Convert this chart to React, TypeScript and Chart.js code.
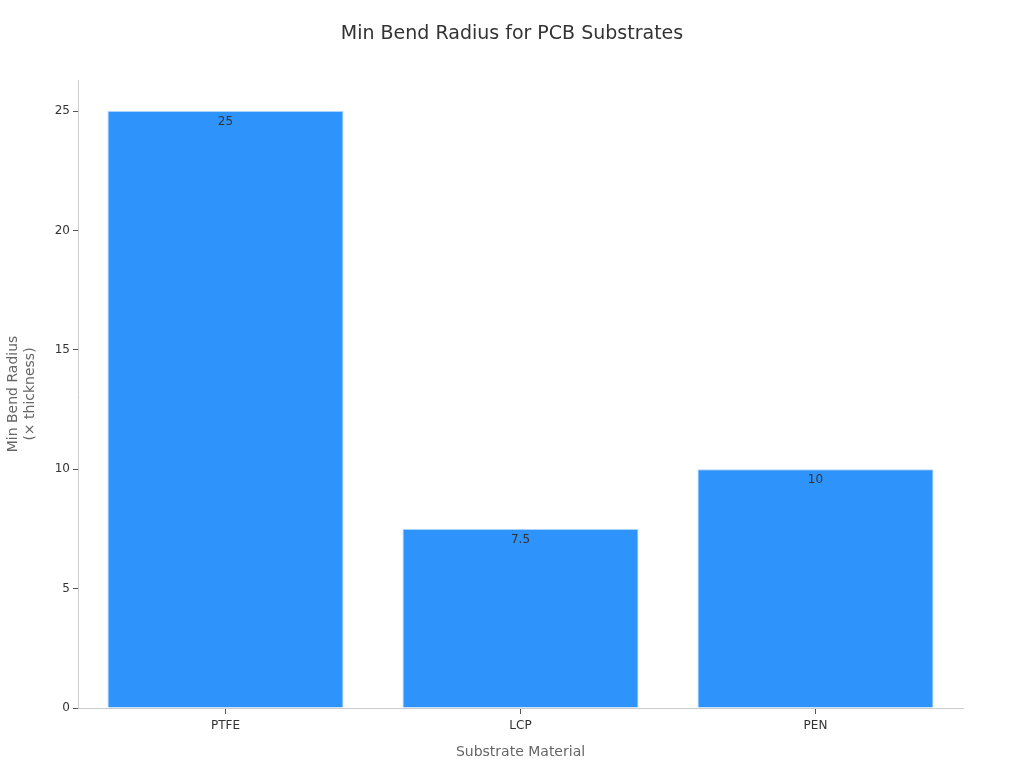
import { useEffect, useRef } from 'react';
import { Chart } from 'chart.js/auto';

const CATEGORIES = ['PTFE', 'LCP', 'PEN'];
const BEND_RADIUS = [25, 7.5, 10];
const Y_TICKS = [0, 5, 10, 15, 20, 25];
const TITLE = 'Min Bend Radius for PCB Substrates';

const FONT = "'DejaVu Sans', sans-serif";

// title centred on the whole canvas, plus value labels just inside each bar top
const overlay = {
  id: 'overlay',
  afterDatasetsDraw(chart: Chart) {
    const { ctx } = chart;
    const meta = chart.getDatasetMeta(0);
    ctx.save();
    ctx.textAlign = 'center';
    ctx.textBaseline = 'middle';
    ctx.fillStyle = '#333';
    ctx.font = `19px ${FONT}`;
    ctx.fillText(TITLE, chart.width / 2, 34);
    ctx.font = `12px ${FONT}`;
    meta.data.forEach((bar: any, i: number) => {
      ctx.fillText(String(BEND_RADIUS[i]), bar.x, bar.y + 11);
    });
    ctx.restore();
  },
};

export default function App() {
  const canvasRef = useRef<HTMLCanvasElement>(null);
  const chartRef = useRef<Chart | null>(null);

  useEffect(() => {
    document.body.style.margin = '0';
    const canvas = canvasRef.current;
    if (!canvas) return;

    chartRef.current?.destroy();
    chartRef.current = new Chart(canvas, {
      type: 'bar',
      data: {
        labels: CATEGORIES,
        datasets: [
          {
            data: BEND_RADIUS,
            backgroundColor: '#2E93FA',
            borderColor: '#A9D3FF',
            borderWidth: 1,
            categoryPercentage: 0.8,
            barPercentage: 1,
          },
        ],
      },
      options: {
        animation: false,
        responsive: true,
        maintainAspectRatio: false,
        layout: { padding: { left: 0, right: 61, top: 80, bottom: 0 } },
        plugins: {
          legend: { display: false },
          tooltip: { enabled: false },
          title: { display: false },
        },
        scales: {
          x: {
            grid: { drawOnChartArea: false, offset: false, tickLength: 6, tickColor: '#555' },
            border: { color: '#ccc' },
            ticks: { color: '#333', font: { family: FONT, size: 12 }, padding: 5 },
            title: {
              display: true,
              text: 'Substrate Material',
              color: '#666',
              font: { family: FONT, size: 14 },
              padding: { top: 4, bottom: 7 },
            },
            afterFit: (scale: any) => {
              scale.height = 60;
            },
          },
          y: {
            min: 0,
            max: 26.3,
            afterBuildTicks: (scale: any) => {
              scale.ticks = Y_TICKS.map((v) => ({ value: v }));
            },
            grid: { drawOnChartArea: false, tickLength: 5, tickColor: '#555' },
            border: { color: '#ccc' },
            ticks: { color: '#333', font: { family: FONT, size: 12 }, padding: 3 },
            title: {
              display: true,
              text: ['Min Bend Radius', '(× thickness)'],
              color: '#666',
              font: { family: FONT, size: 14 },
              padding: { top: 5, bottom: 4 },
            },
            afterFit: (scale: any) => {
              scale.width = 78;
            },
          },
        },
      },
      plugins: [overlay],
    });

    return () => {
      chartRef.current?.destroy();
      chartRef.current = null;
    };
  }, []);

  return (
    <div style={{ position: 'relative', width: 1024, height: 768, background: '#fff' }}>
      <canvas ref={canvasRef} />
    </div>
  );
}
